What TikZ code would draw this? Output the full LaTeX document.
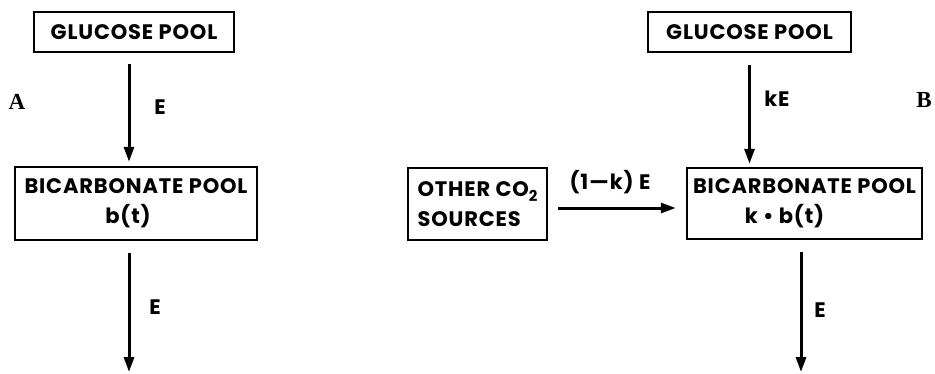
\documentclass[tikz,border=0pt]{standalone}
\usepackage{fontspec}
\setmainfont{Poppins}[LetterSpace=4]
\newfontfamily\serifbold{Liberation Serif}
\usetikzlibrary{arrows.meta}
\tikzset{
  box/.style={draw, line width=2.4pt, inner sep=0pt, font=\fontsize{21}{30}\selectfont\bfseries, align=center},
  arr/.style={line width=3pt, -{Triangle[length=15pt,width=10pt]}},
  lab/.style={font=\fontsize{21}{21}\selectfont\bfseries, inner sep=0pt},
  panel/.style={font=\fontsize{23}{23}\selectfont\serifbold\bfseries, inner sep=0pt}
}
\begin{document}
\begin{tikzpicture}[x=1pt,y=-1pt]
\useasboundingbox (0,0) rectangle (935,373);
% Panel A
\node[box, minimum width=200pt, minimum height=40pt] (gA) at (134,32) {GLUCOSE POOL};
\node[box, minimum width=242pt, minimum height=73pt] (bA) at (136,203.5) {BICARBONATE POOL\\b(t)\hspace*{16pt}};
\coordinate (outA) at (129,372);
\draw[arr] ([xshift=-5pt,yshift=-11pt]gA.south) -- ([xshift=-7pt,yshift=4pt]bA.north);
\draw[arr] ([xshift=-7pt,yshift=-12pt]bA.south) -- (outA);
\node[lab] (eA1) at (160,107) {E};
\node[lab] (eA2) at (155,307) {E};
\node[panel] (pA) at (17,102) {A};
% Panel B
\node[box, minimum width=203pt, minimum height=40pt] (gB) at (749.5,32) {GLUCOSE POOL};
\node[box, minimum width=235pt, minimum height=71pt] (bB) at (804.5,203.5) {BICARBONATE POOL\\k \textbullet\ b(t)\hspace*{40pt}};
\node[box, minimum width=139pt, minimum height=72pt, align=left] (oc) at (477.5,204) {OTHER CO\raisebox{-5pt}{\fontsize{15}{15}\selectfont 2}\\SOURCES};
\coordinate (outB) at (801,372);
\draw[arr] ([yshift=-12pt]gB.south) -- ([yshift=3pt]gB.south |- bB.north);
\draw[arr] ([xshift=-3.5pt,yshift=-12pt]bB.south) -- (outB);
\draw[arr] ([xshift=10pt,yshift=-4pt]oc.east) -- ([xshift=-10pt,yshift=-4.5pt]bB.west);
\node[lab] (kE) at (777,99) {kE};
\node[lab] (eB2) at (820,310) {E};
\node[lab] (oneK) at (610,182) {(1\kern1pt—\kern1pt k)\ E};
\node[panel] (pB) at (924,100) {B};
\end{tikzpicture}
\end{document}
